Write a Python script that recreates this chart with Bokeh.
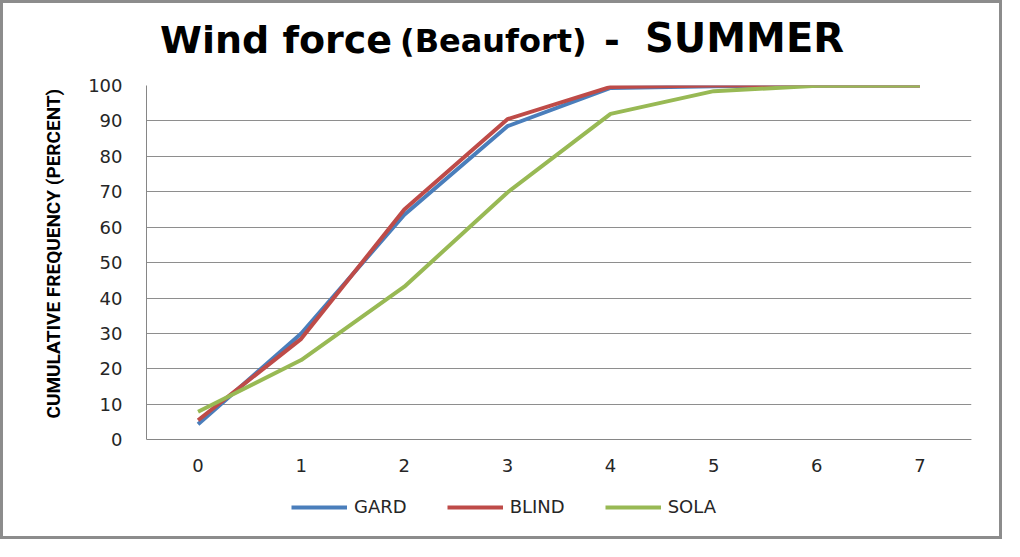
from bokeh.plotting import figure
from bokeh.models import Range1d, FixedTicker, Legend, LegendItem, Div, Title
from bokeh.layouts import column
from bokeh.embed import file_html
from bokeh.resources import INLINE

# ---- data ----
wind_force = [0, 1, 2, 3, 4, 5, 6, 7]
gard = [4.4, 30.0, 63.5, 88.5, 99.3, 99.8, 100.0, 100.0]
blind = [5.5, 28.5, 65.0, 90.5, 99.6, 100.0, 100.0, 100.0]
sola = [7.9, 22.5, 43.2, 69.8, 92.0, 98.4, 99.9, 100.0]
series_names = ["GARD", "BLIND", "SOLA"]
series_colors = ["#4A7EBB", "#BE4B48", "#98B954"]
y_ticks = [0, 10, 20, 30, 40, 50, 60, 70, 80, 90, 100]
title_parts = ["Wind force", "(Beaufort)", "-", "SUMMER"]
y_title = "CUMULATIVE FREQUENCY (PERCENT)"

W = 996

# ---- title (mixed font sizes, as in the reference) ----
span_specs = [(157, 18, "38px", "left"), (397, 22, "32px", "left"),
              (609, 18, "38px", "center"), (642, 15, "40px", "left")]
spans = []
for txt, (lx, ty, fs, al) in zip(title_parts, span_specs):
    tx = "translateX(-50%)" if al == "center" else "none"
    spans.append(
        f'<span style="position:absolute;left:{lx}px;top:{ty}px;white-space:nowrap;'
        f'font-family:\'DejaVu Sans\';font-weight:bold;font-size:{fs};line-height:{fs};'
        f'color:#000;transform:{tx}">{txt}</span>')
title_div = Div(width=W, height=60, margin=0,
                text=f'<div style="position:relative;width:{W}px;height:60px">' + "".join(spans) + "</div>")

# ---- chart ----
# frame runs down to the bottom so that the legend under the axis is drawn inside it
p = figure(width=W, height=473, output_backend="svg", toolbar_location=None,
           x_range=Range1d(-0.5, 7.5), y_range=Range1d(-27.3, 100),
           min_border_left=143, min_border_right=28,
           min_border_top=22, min_border_bottom=0, margin=0)
p.outline_line_color = None
p.background_fill_color = "white"
p.border_fill_color = "white"

p.xaxis.ticker = FixedTicker(ticks=wind_force)
p.xaxis.fixed_location = 0
p.yaxis.ticker = FixedTicker(ticks=y_ticks)
p.yaxis.bounds = (0, 100)
p.xgrid.visible = False
p.ygrid.grid_line_color = "#8e8e8e"
p.ygrid.grid_line_width = 1
for ax in (p.xaxis[0], p.yaxis[0]):
    ax.axis_line_color = "#868686"
    ax.axis_line_width = 1
    ax.major_tick_line_color = None
    ax.minor_tick_line_color = None
    ax.major_tick_out = 0
    ax.major_tick_in = 0
    ax.major_label_text_font = "DejaVu Sans"
    ax.major_label_text_font_size = "18px"
    ax.major_label_text_color = "#262626"
p.xaxis.major_label_standoff = 19
p.yaxis.major_label_standoff = 24

# vertical axis title, placed along the 0..100 part of the axis
p.add_layout(Title(text=y_title, align="left", offset=118, standoff=42,
                   text_font="Roboto", text_font_style="bold",
                   text_font_size="19px", text_color="black"), "left")

renderers = []
for vals, col in zip([gard, blind, sola], series_colors):
    r = p.line(wind_force, vals, line_width=4, line_color=col, line_join="round")
    renderers.append(r)

legend = Legend(items=[LegendItem(label=n, renderers=[r]) for n, r in zip(series_names, renderers)],
                orientation="horizontal", location=(145, 19), spacing=40,
                glyph_width=56, glyph_height=20, label_standoff=7, padding=0, margin=0,
                border_line_color=None, background_fill_alpha=0,
                label_text_font="DejaVu Sans", label_text_font_size="18px",
                label_text_color="#262626")
p.add_layout(legend)

layout = column(title_div, p, spacing=0,
                styles={"border": "3px solid #8c8c8c", "background-color": "white"})

open("out.html", "w").write(file_html(layout, INLINE))
